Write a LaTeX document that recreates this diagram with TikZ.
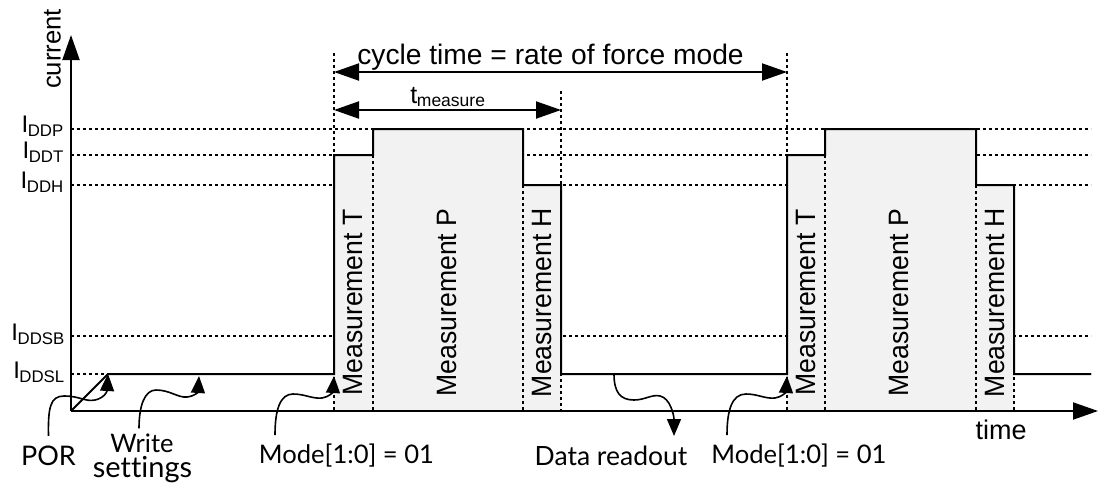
\documentclass[tikz,border=0pt]{standalone}
\usepackage{fontspec}
\setmainfont{Liberation Sans}
\newfontfamily\lat[Ligatures=NoCommon]{Lato}
\usetikzlibrary{arrows.meta}
\tikzset{
  dots/.style={line width=1.5pt,dash pattern=on 3pt off 3pt,black},
  solidl/.style={line width=2pt,black,line join=miter},
  bigtip/.style={-{Triangle[length=25pt,width=17pt]}},
  dbl/.style={line width=2pt,{Triangle[length=25pt,width=17pt]}-{Triangle[length=25pt,width=17pt]}},
  wig/.style={line width=1.6pt,-{Triangle[length=17pt,width=14pt]}},
  lvl/.style={font=\fontsize{24}{24}\selectfont,anchor=east,inner sep=0pt},
  meas/.style={font=\fontsize{28}{28}\selectfont,rotate=90,inner sep=0pt},
  lab/.style={font=\lat\fontsize{26}{26}\selectfont,inner sep=0pt,align=center},
  txt/.style={font=\fontsize{25}{25}\selectfont,inner sep=0pt},
}
\newcommand{\sbs}[2]{#1\textsubscript{\kern-0.5pt #2}}
\newcommand{\nrw}[1]{\scalebox{0.95}[1]{#1}}
\begin{document}
\begin{tikzpicture}[x=1pt,y=-1pt]
\useasboundingbox (0,0) rectangle (1099,483);
% level lines
\foreach \y in {129,155,185,336,374} \draw[dots] (71,\y) -- (1091,\y);
% fills
\fill[fill=black!5] (334,155) -| (373,129) -| (523,185) -| (561,411) -| (334,155) -- cycle;
\fill[fill=black!5] (787,155) -| (825,129) -| (976,185) -| (1014,411) -| (787,155) -- cycle;
\foreach \x/\t in {334/53,373/155,523/185,561/91,787/53,825/155,976/185,1014/185}
  \draw[dots] (\x,\t) -- (\x,411);
% signal
\coordinate (origin) at (71,411);
\coordinate (yend) at (71,35);
\coordinate (xend) at (1098,411);
\coordinate (por) at (108,374);
\draw[solidl] (origin) -- (por) -- (334,374) -- (334,155) -- (373,155) -- (373,129) -- (523,129) -- (523,185) -- (561,185) -- (561,374) -- (787,374) -- (787,155) -- (825,155) -- (825,129) -- (976,129) -- (976,185) -- (1014,185) -- (1014,374) -- (1091,374);
% axes
\draw[solidl,bigtip] (origin) -- (yend);
\draw[solidl,bigtip] (origin) -- (xend);
% dimension arrows
\coordinate (c1) at (334,72); \coordinate (c2) at (787,72);
\coordinate (m1) at (334,110); \coordinate (m2) at (561,110);
\draw[dbl] (c1) -- (c2);
\draw[dbl] (m1) -- (m2);
\node[font=\fontsize{28.2}{28.2}\selectfont,inner sep=0pt] (cyc) at (550.5,57.5) {cycle time = rate of force mode};
\node[txt] (tm) at (448,97) {\sbs{t}{measure}};
% axis labels
\node[font=\fontsize{25.7}{25.7}\selectfont,inner sep=0pt,rotate=90] (cur) at (52.5,49) {current};
\node[font=\fontsize{27}{27}\selectfont,inner sep=0pt] (tim) at (1001,430) {time};
% levels
\node[lvl] (ip) at (64,126) {\sbs{I}{DDP}};
\node[lvl] (it) at (64,152) {\sbs{I}{DDT}};
\node[lvl] (ih) at (64,182) {\sbs{I}{DDH}};
\node[lvl] (ib) at (65,334) {\sbs{I}{DDSB}};
\node[lvl] (il) at (65,372) {\sbs{I}{DDSL}};
% measurement labels
\node[meas] (t1) at (352.5,302.5) {\nrw{Measurement T}};
\node[meas] (p1) at (446.5,302.5) {\nrw{Measurement P}};
\node[meas] (h1) at (542,302.5) {\nrw{Measurement H}};
\node[meas] (t2) at (805.5,302.5) {\nrw{Measurement T}};
\node[meas] (p2) at (899,302.5) {\nrw{Measurement P}};
\node[meas] (h2) at (995,302.5) {\nrw{Measurement H}};
% bottom labels
\node[lab,font=\lat\fontsize{27}{27}\selectfont] (lpor) at (48.5,456) {POR};
\node[lab,font=\lat\fontsize{25.5}{25.5}\selectfont] (lwr) at (142,443) {Write};
\node[lab,font=\lat\fontsize{29}{29}\selectfont] (lset) at (142.5,470) {settings};
\node[lab,font=\lat\fontsize{25.6}{26}\selectfont] (lm1) at (346.5,456) {Mode[1:0] = 01};
\node[lab,font=\lat\fontsize{26.5}{26}\selectfont] (ldr) at (611,456) {Data readout};
\node[lab,font=\lat\fontsize{25.6}{26}\selectfont] (lm2) at (799,456) {Mode[1:0] = 01};
\coordinate (w1) at (199,376);
\coordinate (a1) at (334,376);
\coordinate (a2) at (787,376);
\coordinate (d0) at (614,374);
\coordinate (d1) at (674,436);
\draw[wig] (lpor.north) ++(0,-10) .. controls (48,408) and (50,396) .. (64,396) .. controls (80,396) and (85,402) .. (95,400) .. controls (104,398) and (107,392) .. (por);
\draw[wig] (lwr.north) ++(-3,-5) .. controls (139,405) and (145,390) .. (156,390) .. controls (170,390) and (178,398) .. (187,397) .. controls (195,396) and (198,392) .. (w1);
\draw[wig] (275,435) .. controls (275,410) and (280,394) .. (293,394) .. controls (305,394) and (312,399) .. (322,398) .. controls (329,397) and (333,392) .. (a1);
\draw[wig] (727,435) .. controls (727,410) and (732,394) .. (746,394) .. controls (758,394) and (765,399) .. (775,398) .. controls (782,397) and (786,392) .. (a2);
\draw[wig] (d0) .. controls (614,392) and (620,400) .. (634,400) .. controls (645,400) and (652,394) .. (660,396) .. controls (670,398) and (674,415) .. (d1);
\end{tikzpicture}
\end{document}
